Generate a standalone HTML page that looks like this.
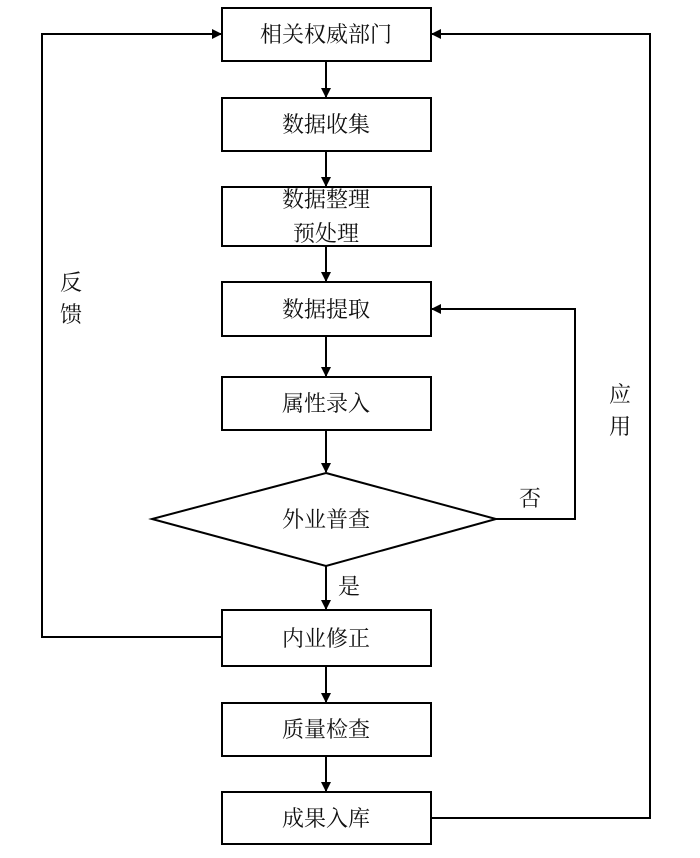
<!DOCTYPE html>
<html><head><meta charset="utf-8"><style>
html,body{margin:0;padding:0;background:#fff;}
svg text{font-family:"Liberation Serif","Noto Serif CJK SC","Noto Sans CJK SC",serif;font-size:22px;fill:#111;}
</style></head><body>
<svg width="700" height="853" viewBox="0 0 700 853" xmlns="http://www.w3.org/2000/svg">
<defs><marker id="a" markerWidth="10" markerHeight="10" refX="9" refY="5" orient="auto" markerUnits="userSpaceOnUse"><path d="M0,0 L10,5 L0,10 z" fill="#000"/></marker></defs>
<g fill="#fff" stroke="#000" stroke-width="2">
<rect x="222" y="8" width="209" height="53"/>
<rect x="222" y="98" width="209" height="53"/>
<rect x="222" y="187" width="209" height="59"/>
<rect x="222" y="282" width="209" height="54"/>
<rect x="222" y="377" width="209" height="53"/>
<polygon points="326,473 496,519 326,566 152,519"/>
<rect x="222" y="610" width="209" height="56"/>
<rect x="222" y="703" width="209" height="53"/>
<rect x="222" y="792" width="209" height="52"/>
</g>
<g stroke="#000" stroke-width="2" fill="none" marker-end="url(#a)">
<line x1="326" y1="61" x2="326" y2="97"/>
<line x1="326" y1="151" x2="326" y2="186"/>
<line x1="326" y1="246" x2="326" y2="281"/>
<line x1="326" y1="336" x2="326" y2="376"/>
<line x1="326" y1="430" x2="326" y2="472"/>
<line x1="326" y1="566" x2="326" y2="609"/>
<line x1="326" y1="666" x2="326" y2="702"/>
<line x1="326" y1="756" x2="326" y2="791"/>
<polyline points="222,637 42,637 42,34 221,34"/>
<polyline points="431,818 650,818 650,34 432,34"/>
<polyline points="496,519 575,519 575,309 432,309"/>
</g>
<g text-anchor="middle">
<text x="326" y="42">相关权威部门</text>
<text x="326" y="132">数据收集</text>
<text x="326" y="207">数据整理</text>
<text x="326" y="241">预处理</text>
<text x="326" y="317">数据提取</text>
<text x="326" y="411">属性录入</text>
<text x="326" y="527">外业普查</text>
<text x="326" y="646">内业修正</text>
<text x="326" y="737">质量检查</text>
<text x="326" y="826">成果入库</text>
<text x="71" y="290">反</text>
<text x="71" y="322">馈</text>
<text x="620" y="402">应</text>
<text x="620" y="434">用</text>
<text x="530" y="506">否</text>
<text x="349" y="594">是</text>
</g>
</svg>
</body></html>
